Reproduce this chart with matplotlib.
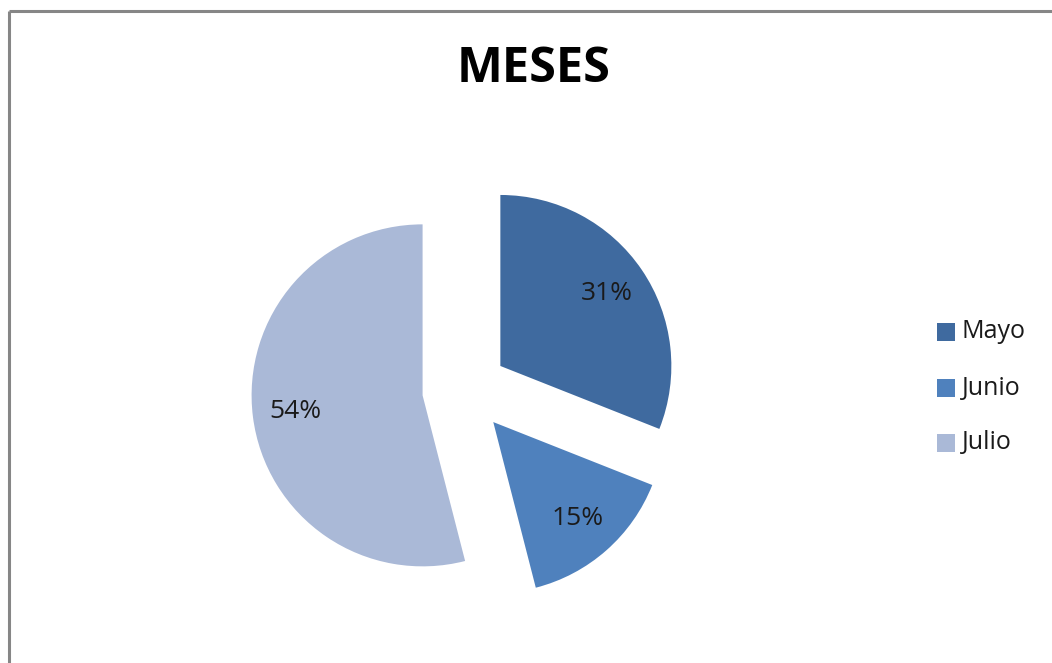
import matplotlib
matplotlib.use("Agg")
import matplotlib.pyplot as plt
from matplotlib.patches import Rectangle
from matplotlib.lines import Line2D

categories = ["Mayo", "Junio", "Julio"]
values = [31, 15, 54]
colors = ["#3F6A9F", "#4F81BD", "#AAB9D7"]
title = "MESES"

plt.rcParams['font.family'] = ['Open Sans', 'DejaVu Sans']

W, H = 1052, 663
fig = plt.figure(figsize=(W / 100, H / 100), dpi=100)
fig.patch.set_facecolor("white")

# border (top and left visible)
fig.add_artist(Line2D([8.5 / W, 8.5 / W], [0, 1 - 10.5 / H], transform=fig.transFigure,
                      color="#868686", lw=2.2, solid_capstyle="butt"))
fig.add_artist(Line2D([8.5 / W, 1], [1 - 10.5 / H, 1 - 10.5 / H], transform=fig.transFigure,
                      color="#868686", lw=2.2, solid_capstyle="butt"))

cx, cy, r_px = 465, 390, 171
L = 1.5
side = 2 * L * r_px
ax = fig.add_axes([(cx - side / 2) / W, (H - cy - side / 2) / H, side / W, side / H])
ax.set_xlim(-L, L)
ax.set_ylim(-L, L)
ax.set_aspect("equal")
ax.axis("off")

wedges, texts, autotexts = ax.pie(
    values, colors=colors, startangle=90, counterclock=False,
    explode=[0.25] * len(values), autopct="%1.0f%%", pctdistance=0.75,
    wedgeprops=dict(linewidth=0), textprops=dict(fontsize=19, color="#1a1a1a"))
ax.set_xlim(-L, L)
ax.set_ylim(-L, L)

fig.text(534 / W, 1 - 70 / H, title, ha="center", va="center",
         fontsize=35, fontweight="bold", color="black")

# legend
leg_y = [332, 388, 443]
for lab, col, y in zip(categories, colors, leg_y):
    fig.add_artist(Rectangle((937 / W, 1 - (y + 9) / H), 18 / W, 18 / H,
                             transform=fig.transFigure, facecolor=col, edgecolor="none"))
    fig.text(962 / W, 1 - y / H, lab, ha="left", va="center", fontsize=18, color="#1a1a1a")

fig.savefig("out.png", dpi=100, facecolor="white")
